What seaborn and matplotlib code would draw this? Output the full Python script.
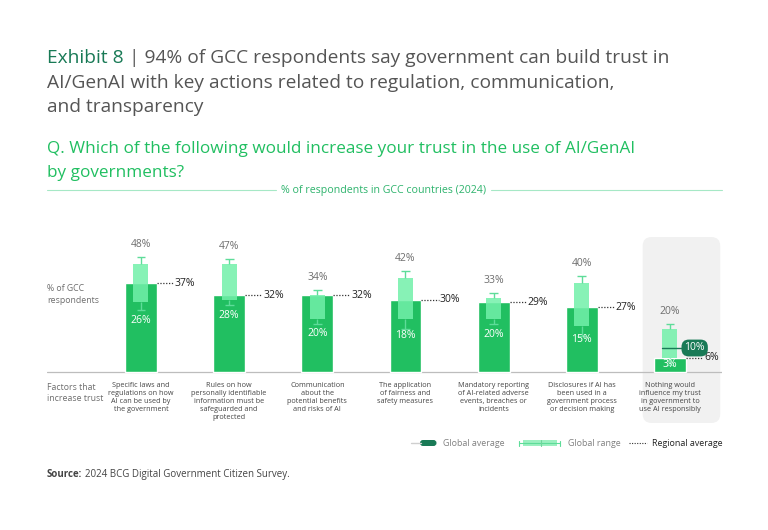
import matplotlib
matplotlib.use("Agg")
import matplotlib.pyplot as plt
import matplotlib.transforms as mtrans
from matplotlib.patches import FancyBboxPatch, Rectangle
import numpy as np
import pandas as pd
import seaborn as sns

# ---------------- data ----------------
categories = [
    "Specific laws and\nregulations on how\nAI can be used by\nthe government",
    "Rules on how\npersonally identifiable\ninformation must be\nsafeguarded and\nprotected",
    "Communication\nabout the\npotential benefits\nand risks of AI",
    "The application\nof fairness and\nsafety measures",
    "Mandatory reporting\nof AI-related adverse\nevents, breaches or\nincidents",
    "Disclosures if AI has\nbeen used in a\ngovernment process\nor decision making",
    "Nothing would\ninfluence my trust\nin government to\nuse AI responsibly",
]
regional_avg = [37, 32, 32, 30, 29, 27, 6]
global_max = [48, 47, 34, 42, 33, 40, 20]
global_min = [26, 28, 20, 18, 20, 15, 3]
global_q3 = [45, 45, 32, 39, 31, 37, 18]
global_q1 = [29, 30, 22, 22, 22, 19, 6]
global_avg = [np.nan, np.nan, np.nan, np.nan, np.nan, np.nan, 10]
highlight = [False, False, False, False, False, False, True]

df = pd.DataFrame({
    "key": [f"c{i}" for i in range(len(categories))],
    "regional": regional_avg,
})

# ---------------- style ----------------
sns.set_style("white")
plt.rcParams["font.family"] = ["Open Sans", "DejaVu Sans"]

GREEN_DARK = "#197A56"
GREEN = "#21BF61"
GREEN_LIGHT = "#72F0AA"
WHISK = "#5EDC99"
GRAY_T = "#555555"
GRAY_L = "#6E6E6E"

W, H = 768, 530
fig = plt.figure(figsize=(W / 100, H / 100), dpi=100)
fig.patch.set_facecolor("white")
PX = mtrans.Affine2D().scale(1 / W, -1 / H).translate(0, 1) + fig.transFigure
R = fig.canvas.get_renderer()


def ptext(x, y, s, **kw):
    return fig.text(x, y, s, transform=PX, **kw)


def width(t):
    return t.get_window_extent(R).width


# ---------------- title ----------------
t1 = ptext(47, 63, "Exhibit 8 ", color=GREEN_DARK, fontsize=14, va="baseline")
t2 = ptext(47, 63, "| 94% of GCC respondents say government can build trust in",
           color=GRAY_T, fontsize=14, va="baseline")
f = 626 / (width(t1) + width(t2))
for t in (t1, t2):
    t.set_fontsize(14 * f)
t2.set_x(47 + width(t1))
ptext(47, 87.5, "AI/GenAI with key actions related to regulation, communication,",
      color=GRAY_T, fontsize=14 * f, va="baseline")
ptext(47, 112, "and transparency", color=GRAY_T, fontsize=14 * f, va="baseline")

q1t = ptext(47, 153, "Q. Which of the following would increase your trust in the use of AI/GenAI",
            color=GREEN, fontsize=12, va="baseline")
fq = 583 / width(q1t)
q1t.set_fontsize(12 * fq)
ptext(47, 177, "by governments?", color=GREEN, fontsize=12 * fq, va="baseline")

st = ptext(384, 190, "% of respondents in GCC countries (2024)", color="#2DB36C",
           fontsize=7, ha="center", va="center")
st.set_fontsize(7 * 206 / width(st))
fig.add_artist(plt.Line2D([47, 276], [190, 190], transform=PX, color="#A6E8C6", lw=0.8))
fig.add_artist(plt.Line2D([491, 722], [190, 190], transform=PX, color="#A6E8C6", lw=0.8))

# ---------------- axes ----------------
PXY = 2.4  # pixels per percentage point
ax = fig.add_axes([47 / W, (H - 423) / H, 675 / W, (423 - 237) / H])
ax.set_facecolor("none")

sns.barplot(data=df, x="key", y="regional", color=GREEN, width=0.36,
            saturation=1, ax=ax, zorder=2)
ax.set_xlim(-1.066, 6.59)
ax.set_ylim(-(423 - 372) / PXY, (372 - 237) / PXY)
ax.axis("off")
ax.axhline(0, color="#BDBDBD", lw=0.9, zorder=1)

n = len(categories)
xs = np.arange(n)
bw = 0.17
cap = 0.05

# global range boxes
ax.bar(xs, np.array(global_q3) - np.array(global_q1), bottom=global_q1, width=bw,
       color=GREEN_LIGHT, alpha=0.85, zorder=3, linewidth=0)
ax.vlines(xs, global_q3, global_max, color=WHISK, lw=1, zorder=3)
ax.vlines(xs, global_min, global_q1, color=WHISK, lw=1, zorder=3)
ax.hlines(global_max, xs - cap, xs + cap, color=WHISK, lw=1, zorder=3)
ax.hlines(global_min, xs - cap, xs + cap, color=WHISK, lw=1, zorder=3)

for i in range(n):
    # max label
    ax.annotate(f"{global_max[i]}%", (i, global_max[i]), xytext=(0, 5),
                textcoords="offset points", ha="center", va="bottom",
                fontsize=7.5, color=GRAY_L, zorder=5)
    # min label inside bar
    ymin_lbl = max(global_min[i] - 4.5, regional_avg[i] / 2)
    ax.text(i, ymin_lbl, f"{global_min[i]}%", ha="center", va="center",
            fontsize=7.5, color="white", zorder=5)
    # regional average dotted line + label
    ax.plot([i + 0.18, i + 0.375], [regional_avg[i]] * 2, color="#333333",
            lw=0.9, linestyle=(0, (1, 1.3)), zorder=4)
    ax.text(i + 0.385, regional_avg[i], f"{regional_avg[i]}%", ha="left",
            va="center", fontsize=7.5, color="#222222", zorder=5)
    # global average
    if not np.isnan(global_avg[i]):
        ax.plot([i - bw / 2, i + 0.28], [global_avg[i]] * 2, color=GREEN_DARK,
                lw=1, zorder=4)
        ax.text(i + 0.28, global_avg[i], f"{global_avg[i]:.0f}%", ha="center",
                va="center", fontsize=7.5, color="white", zorder=6,
                bbox=dict(boxstyle="round,pad=0.28,rounding_size=0.7",
                          fc=GREEN_DARK, ec="none"))
    # category label
    ax.annotate(categories[i], (i, 0), xytext=(0, -7), textcoords="offset points",
                ha="center", va="top", fontsize=5.2, color="#444444",
                linespacing=1.2, zorder=5)

# highlight panel
fig.canvas.draw()
for i in range(n):
    if highlight[i]:
        x0, _ = ax.transData.transform((i - 0.31, 0))
        x1, _ = ax.transData.transform((i + 0.57, 0))
        bg = FancyBboxPatch((x0, H - 423), x1 - x0, 423 - 237,
                            boxstyle="round,pad=0,rounding_size=9",
                            transform=mtrans.IdentityTransform(),
                            fc="#F1F1F1", ec="none", zorder=0)
        fig.add_artist(bg)
        bg.set_zorder(-1)

# side labels
ptext(47, 294.5, "% of GCC\nrespondents", ha="left", va="center", fontsize=6.3,
      color=GRAY_L, linespacing=1.3)
ptext(47, 393, "Factors that\nincrease trust", ha="left", va="center", fontsize=6.3,
      color=GRAY_L, linespacing=1.3)

# ---------------- legend ----------------
LY = 443
fig.add_artist(plt.Line2D([411, 421], [LY, LY], transform=PX, color="#CFCFCF", lw=1))
fig.add_artist(FancyBboxPatch((420, LY - 3), 16.5, 6, boxstyle="round,pad=0,rounding_size=3",
                              transform=PX, fc=GREEN_DARK, ec="none"))
ptext(443, LY, "Global average", va="center", ha="left", fontsize=6.4, color="#808080")
fig.add_artist(plt.Line2D([519, 560], [LY, LY], transform=PX, color=WHISK, lw=0.8))
fig.add_artist(plt.Line2D([519, 519], [LY - 2.5, LY + 2.5], transform=PX, color=WHISK, lw=0.8))
fig.add_artist(plt.Line2D([560, 560], [LY - 2.5, LY + 2.5], transform=PX, color=WHISK, lw=0.8))
fig.add_artist(Rectangle((523, LY - 3), 34, 6, transform=PX, fc="#9BF0C0", ec="none"))
fig.add_artist(plt.Line2D([541, 541], [LY - 3, LY + 3], transform=PX, color="#6FD59C", lw=0.8))
ptext(568, LY, "Global range", va="center", ha="left", fontsize=6.4, color="#808080")
fig.add_artist(plt.Line2D([629, 647], [LY, LY], transform=PX, color="#333333", lw=0.8,
                          linestyle=(0, (1, 1.3))))
ptext(651.5, LY, "Regional average", va="center", ha="left", fontsize=6.4, color="#222222")

# ---------------- source ----------------
s1 = ptext(47, 477, "Source:", va="baseline", ha="left", fontsize=7, color="#444444",
           fontweight="bold")
ptext(47 + width(s1) + 3, 477, "2024 BCG Digital Government Citizen Survey.", va="baseline",
      ha="left", fontsize=7, color="#444444")

fig.savefig("out.png", dpi=100, facecolor="white")
